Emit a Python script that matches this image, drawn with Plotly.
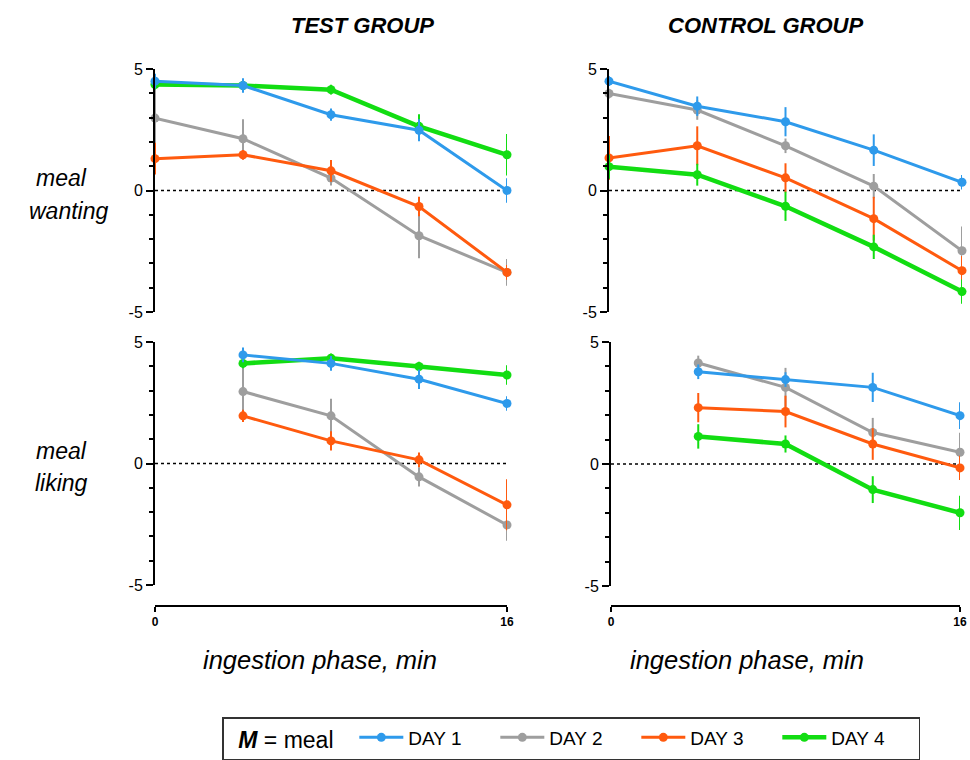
import plotly.graph_objects as go

W, H = 970, 760

times = [0, 4, 8, 12, 16]
days = ["DAY 1", "DAY 2", "DAY 3", "DAY 4"]
colors = ["#2E9AEB", "#9E9E9E", "#FF5A0E", "#12DD12"]
widths = [3, 3, 3, 4.5]

# meal wanting – test group
tw_d1 = [4.5, 4.32, 3.12, 2.48, 0.0]
tw_d2 = [2.98, 2.13, 0.51, -1.86, -3.37]
tw_d3 = [1.31, 1.47, 0.81, -0.66, -3.37]
tw_d4 = [4.36, 4.32, 4.15, 2.64, 1.47]
tw_e1 = [0.3, 0.3, 0.25, 0.45, 0.5]
tw_e2 = [1.4, 0.8, 0.3, 0.93, 0.55]
tw_e3 = [0.65, 0.2, 0.45, 0.4, 0.3]
tw_e4 = [0.2, 0.2, 0.2, 0.5, 0.85]

# meal wanting – control group
cw_d1 = [4.5, 3.47, 2.83, 1.66, 0.34]
cw_d2 = [3.99, 3.31, 1.84, 0.18, -2.48]
cw_d3 = [1.34, 1.84, 0.52, -1.16, -3.30]
cw_d4 = [0.98, 0.65, -0.65, -2.32, -4.16]
cw_e1 = [0.2, 0.4, 0.6, 0.65, 0.3]
cw_e2 = [0.2, 0.4, 0.3, 0.5, 1.0]
cw_e3 = [0.9, 0.8, 0.6, 0.9, 0.6]
cw_e4 = [0.5, 0.45, 0.6, 0.5, 0.5]

# meal liking – test group
tl_d1 = [None, 4.47, 4.12, 3.47, 2.47]
tl_d2 = [None, 2.96, 1.96, -0.55, -2.53]
tl_d3 = [None, 1.96, 0.93, 0.15, -1.70]
tl_d4 = [None, 4.12, 4.33, 3.99, 3.64]
tl_e1 = [0, 0.3, 0.3, 0.4, 0.3]
tl_e2 = [0, 1.1, 0.7, 0.4, 0.65]
tl_e3 = [0, 0.25, 0.4, 0.3, 1.05]
tl_e4 = [0, 0.2, 0.2, 0.2, 0.4]

# meal liking – control group
cl_d1 = [None, 3.78, 3.46, 3.14, 1.98]
cl_d2 = [None, 4.14, 3.14, 1.29, 0.48]
cl_d3 = [None, 2.31, 2.15, 0.82, -0.16]
cl_d4 = [None, 1.13, 0.82, -1.05, -2.0]
cl_e1 = [0, 0.3, 0.3, 0.6, 0.55]
cl_e2 = [0, 0.3, 0.8, 0.6, 0.8]
cl_e3 = [0, 0.6, 0.65, 0.65, 0.5]
cl_e4 = [0, 0.5, 0.35, 0.55, 0.7]

panels = [
    ("x", "y", [tw_d1, tw_d2, tw_d3, tw_d4], [tw_e1, tw_e2, tw_e3, tw_e4]),
    ("x2", "y2", [cw_d1, cw_d2, cw_d3, cw_d4], [cw_e1, cw_e2, cw_e3, cw_e4]),
    ("x3", "y3", [tl_d1, tl_d2, tl_d3, tl_d4], [tl_e1, tl_e2, tl_e3, tl_e4]),
    ("x4", "y4", [cl_d1, cl_d2, cl_d3, cl_d4], [cl_e1, cl_e2, cl_e3, cl_e4]),
]

fig = go.Figure()
draw_order = [1, 2, 3, 0]
for pi, (xa, ya, vals, errs) in enumerate(panels):
    for k in draw_order:
        fig.add_trace(go.Scatter(
            x=times, y=vals[k], xaxis=xa, yaxis=ya,
            mode="lines+markers", name=days[k],
            legendrank=k + 1,
            showlegend=(pi == 0),
            line=dict(color=colors[k], width=widths[k]),
            marker=dict(color=colors[k], size=9),
            error_y=dict(type="data", array=errs[k], color=colors[k],
                         thickness=2, width=0, visible=True),
            cliponaxis=False, connectgaps=False,
        ))

def px_x(p):
    return p / W

def px_y(p):
    return 1 - p / H

font = "Liberation Sans, Arial, sans-serif"

def yaxis(dom_top, dom_bot, anchor):
    return dict(
        domain=[px_y(dom_bot), px_y(dom_top)], anchor=anchor,
        range=[-5, 5], tickvals=[-5, 0, 5], ticktext=["-5", "0", "5"],
        ticks="outside", ticklen=7, tickwidth=2, tickcolor="black",
        showline=True, linecolor="black", linewidth=2,
        showgrid=False, zeroline=False,
        tickfont=dict(family=font, size=16, color="black"),
        minor=dict(ticks="outside", dtick=1, tick0=0, ticklen=4,
                   tickwidth=1.5, tickcolor="black", showgrid=False),
    )

def xaxis(l, r, anchor, visible, pos=None):
    d = dict(
        domain=[px_x(l), px_x(r)], range=[0, 16],
        showgrid=False, zeroline=False, visible=visible,
    )
    if visible:
        d.update(dict(
            anchor="free", position=pos,
            tickvals=[0, 16], ticktext=["0", "16"],
            ticks="outside", ticklen=5, tickwidth=2, tickcolor="black",
            showline=True, linecolor="black", linewidth=2,
            tickfont=dict(family=font, size=12, color="black", weight="bold"),
        ))
    else:
        d["anchor"] = anchor
    return d

NB = "\u00a0"
fig.update_layout(
    width=W, height=H,
    margin=dict(l=0, r=0, t=0, b=0, autoexpand=False),
    paper_bgcolor="white", plot_bgcolor="white",
    xaxis=xaxis(155, 507, "y", False),
    yaxis=yaxis(69, 312, "x"),
    xaxis2=xaxis(609, 962, "y2", False),
    yaxis2=yaxis(69, 312, "x2"),
    xaxis3=xaxis(155, 507, "y3", True, px_y(606)),
    yaxis3=yaxis(342, 585, "x3"),
    xaxis4=xaxis(611, 960, "y4", True, px_y(606)),
    yaxis4=yaxis(342, 586, "x4"),
    legend=dict(
        orientation="h", x=px_x(222), y=px_y(717), xanchor="left", yanchor="top",
        bordercolor="#333333", borderwidth=1.5,
        font=dict(family=font, size=19, color="black"),
        title=dict(text=NB + NB + "<b><i>M</i></b> = meal" + NB + NB, side="left",
                   font=dict(family=font, size=23, color="black")),
        itemwidth=44, entrywidth=82, traceorder="normal",
    ),
)

for xa, ya in [("x", "y"), ("x2", "y2"), ("x3", "y3"), ("x4", "y4")]:
    fig.add_shape(type="line", xref=xa, yref=ya, x0=0, x1=16, y0=0, y1=0,
                  line=dict(color="black", width=1.5, dash="dot"), layer="below")

ann = [
    ("<b><i>TEST GROUP</i></b>", 362, 25, 22),
    ("<b><i>CONTROL GROUP</i></b>", 765, 25, 22),
    ("<i>meal</i>", 62, 178, 23),
    ("<i>wanting</i>", 68, 211, 23),
    ("<i>meal</i>", 62, 451, 23),
    ("<i>liking</i>", 62, 483, 23),
    ("<i>ingestion phase, min</i>", 320, 660, 25.5),
    ("<i>ingestion phase, min</i>", 747, 660, 25.5),
]
for text, x, y, s in ann:
    fig.add_annotation(text=text, x=px_x(x), y=px_y(y), xref="paper", yref="paper",
                       showarrow=False, xanchor="center", yanchor="middle",
                       font=dict(family=font, size=s, color="black"))

# remove the browser's default 8px body margin so the figure fills the window exactly
fig.write_html("out.html",
               config={"displayModeBar": False},
               post_script="document.body.style.margin='0';document.body.style.overflow='hidden';")
